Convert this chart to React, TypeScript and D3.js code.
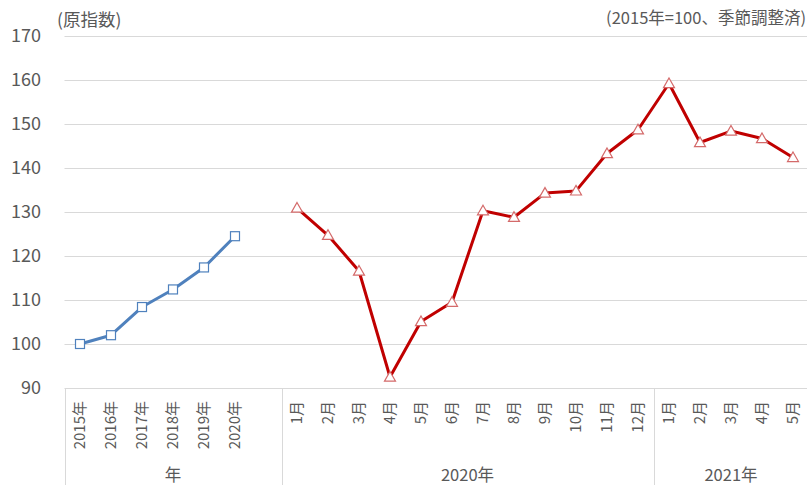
import React from "react";
import * as d3 from "d3";

const annualLabels = ["2015年", "2016年", "2017年", "2018年", "2019年", "2020年"];
const annualValues = [100, 102.0, 108.4, 112.4, 117.4, 124.5];
const months2020 = ["1月", "2月", "3月", "4月", "5月", "6月", "7月", "8月", "9月", "10月", "11月", "12月"];
const values2020 = [130.9, 124.7, 116.6, 92.5, 105.1, 109.5, 130.3, 128.8, 134.3, 134.8, 143.3, 148.7];
const months2021 = ["1月", "2月", "3月", "4月", "5月"];
const values2021 = [159.2, 145.8, 148.4, 146.7, 142.4];
const yTicks = [90, 100, 110, 120, 130, 140, 150, 160, 170];
const groupLabels = ["年", "2020年", "2021年"];
const unitLeft = "(原指数)";
const unitRight = "(2015年=100、季節調整済)";

const W = 807;
const H = 485;
const FONT = "'Noto Sans CJK JP', 'Noto Sans', sans-serif";
const TEXT = "#595959";
const GRID = "#d9d9d9";

export default function App() {
  const cats = [...annualLabels, "", ...months2020, ...months2021];
  const keys = cats.map((_, i) => String(i));
  const x = d3.scaleBand<string>().domain(keys).range([64.5, 808.5]).padding(0);
  const y = d3.scaleLinear().domain([90, 170]).range([388, 36]);
  const cx = (i: number) => (x(String(i)) as number) + x.bandwidth() / 2;

  const annualPts = annualValues.map((v, i) => [cx(i), y(v)] as [number, number]);
  const monthVals = [...values2020, ...values2021];
  const off = annualLabels.length + 1;
  const monthPts = monthVals.map((v, i) => [cx(off + i), y(v)] as [number, number]);
  const line = d3.line();

  const groups = [
    { label: groupLabels[0], start: 0, end: off },
    { label: groupLabels[1], start: off, end: off + months2020.length },
    { label: groupLabels[2], start: off + months2020.length, end: cats.length },
  ];
  const edge = (i: number) => (i >= cats.length ? 808.5 : (x(String(i)) as number));

  const tri = (px: number, py: number) => {
    const s = 5.5;
    return `M${px},${py - s}L${px + s},${py + s * 0.75}L${px - s},${py + s * 0.75}Z`;
  };

  return (
    <svg width={W} height={H} style={{ position: "absolute", left: 0, top: 0, background: "#fff" }} fontFamily={FONT}>
      {yTicks.map((t) => (
        <g key={t}>
          <line x1={64.5} x2={W} y1={Math.round(y(t)) + 0.5} y2={Math.round(y(t)) + 0.5} stroke={GRID} strokeWidth={1} />
          <text x={41} y={y(t)} dy="0.36em" textAnchor="end" fontSize={18} fill={TEXT}>{t}</text>
        </g>
      ))}
      {groups.map((g, i) => (
        <line key={"s" + i} x1={Math.round(edge(g.start)) + 0.5} x2={Math.round(edge(g.start)) + 0.5} y1={388} y2={H} stroke={GRID} strokeWidth={1} />
      ))}
      {cats.map((c, i) => (
        c ? (
          <text key={"c" + i} transform={`translate(${cx(i)},401) rotate(-90)`} textAnchor="end" dy="0.36em" fontSize={15} fill={TEXT}>{c}</text>
        ) : null
      ))}
      {groups.map((g, i) => (
        <text key={"g" + i} x={(edge(g.start) + edge(g.end)) / 2} y={481} textAnchor="middle" fontSize={16.5} fill={TEXT}>{g.label}</text>
      ))}
      <text x={57} y={26} fontSize={17.5} fill={TEXT}>{unitLeft}</text>
      <text x={806} y={24} textAnchor="end" fontSize={16.5} fill={TEXT}>{unitRight}</text>

      <path d={line(annualPts) || ""} fill="none" stroke="#4f81bd" strokeWidth={3} strokeLinejoin="round" />
      {annualPts.map(([px, py], i) => (
        <rect key={"a" + i} x={px - 4.5} y={py - 4.5} width={9} height={9} fill="#fff" stroke="#4f81bd" strokeWidth={1.2} />
      ))}
      <path d={line(monthPts) || ""} fill="none" stroke="#c00000" strokeWidth={3} strokeLinejoin="round" />
      {monthPts.map(([px, py], i) => (
        <path key={"m" + i} d={tri(px, py)} fill="#fff" stroke="#d46a6a" strokeWidth={1.2} />
      ))}
    </svg>
  );
}
